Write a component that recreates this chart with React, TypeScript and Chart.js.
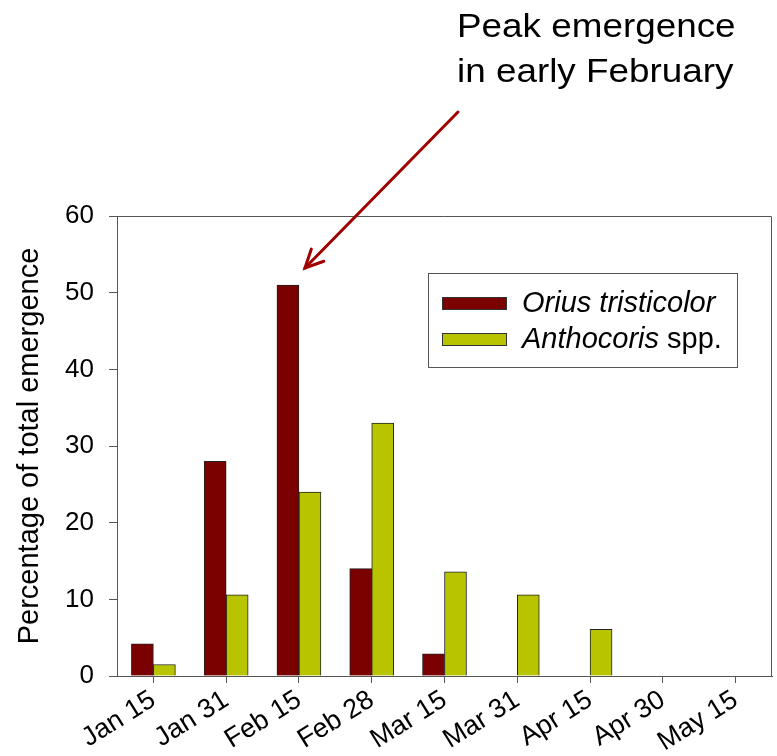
import React, { useEffect, useRef } from "react";
import { Chart, registerables } from "chart.js";

Chart.register(...registerables);

const CATEGORIES = ["Jan 15", "Jan 31", "Feb 15", "Feb 28", "Mar 15", "Mar 31", "Apr 15", "Apr 30", "May 15"];
const ORIUS = [4.2, 28, 51, 14, 2.9, 0, 0, 0, 0];
const ANTHOCORIS = [1.5, 10.6, 24, 33, 13.6, 10.6, 6.1, 0, 0];
const Y_TICKS = [0, 10, 20, 30, 40, 50, 60];
const SERIES_ITALIC = ["Orius tristicolor", "Anthocoris"];
const SERIES_PLAIN = ["", " spp."];
const ANNOTATION_LINES = ["Peak emergence", "in early February"];
const PEAK_INDEX = 2;

const RED = "#7b0000";
const YELLOW = "#b9c400";
const AXIS = "#555555";
const FONT = "'Liberation Sans', Arial, sans-serif";

const overlayPlugin = {
  id: "overlay",
  afterDraw(chart: any) {
    const ctx = chart.ctx;
    const a = chart.chartArea;
    const xs = chart.scales.x;
    const ys = chart.scales.y;
    ctx.save();
    // frame top/right
    ctx.strokeStyle = AXIS;
    ctx.lineWidth = 1;
    ctx.beginPath();
    ctx.moveTo(a.left, a.top + 0.5);
    ctx.lineTo(a.right - 0.5, a.top + 0.5);
    ctx.lineTo(a.right - 0.5, a.bottom);
    ctx.stroke();

    // legend
    const lx = a.right - 344;
    const ly = a.top + 57;
    const lw = 309;
    const lh = 94;
    ctx.fillStyle = "#fff";
    ctx.fillRect(lx, ly, lw, lh);
    ctx.strokeStyle = AXIS;
    ctx.strokeRect(lx + 0.5, ly + 0.5, lw, lh);
    const colors = [RED, YELLOW];
    for (let i = 0; i < 2; i++) {
      const sy = ly + 24 + i * 36;
      ctx.fillStyle = colors[i];
      ctx.fillRect(lx + 14, sy, 65, 13);
      ctx.strokeStyle = "#333";
      ctx.strokeRect(lx + 14.5, sy + 0.5, 64, 12);
      ctx.fillStyle = "#000";
      ctx.textBaseline = "middle";
      ctx.textAlign = "left";
      ctx.font = `italic 29px ${FONT}`;
      const tx = lx + 94;
      ctx.fillText(SERIES_ITALIC[i], tx, sy + 7);
      const w = ctx.measureText(SERIES_ITALIC[i]).width;
      ctx.font = `29px ${FONT}`;
      ctx.fillText(SERIES_PLAIN[i], tx + w, sy + 7);
    }

    // annotation text
    ctx.save();
    ctx.translate(457, 0);
    ctx.scale(1.1, 1);
    ctx.fillStyle = "#000";
    ctx.font = `33.5px ${FONT}`;
    ctx.textAlign = "left";
    ctx.textBaseline = "alphabetic";
    ANNOTATION_LINES.forEach((t, i) => ctx.fillText(t, 0, 37 + i * 45));
    ctx.restore();

    // arrow to peak
    const tipX = xs.getPixelForValue(PEAK_INDEX) + 6;
    const tipY = ys.getPixelForValue(ORIUS[PEAK_INDEX]) - 17;
    const sx = 458;
    const sy = 112;
    ctx.strokeStyle = "#a00000";
    ctx.lineWidth = 3;
    ctx.lineCap = "round";
    ctx.beginPath();
    ctx.moveTo(sx, sy);
    ctx.lineTo(tipX, tipY);
    ctx.stroke();
    const ang = Math.atan2(tipY - sy, tipX - sx);
    const hl = 20;
    ctx.beginPath();
    ctx.moveTo(tipX - hl * Math.cos(ang - 0.45), tipY - hl * Math.sin(ang - 0.45));
    ctx.lineTo(tipX, tipY);
    ctx.lineTo(tipX - hl * Math.cos(ang + 0.45), tipY - hl * Math.sin(ang + 0.45));
    ctx.stroke();
    ctx.restore();
  },
};

export default function App() {
  const ref = useRef<HTMLCanvasElement>(null);
  useEffect(() => {
    if (!ref.current) return;
    const chart = new Chart(ref.current, {
      type: "bar",
      data: {
        labels: CATEGORIES,
        datasets: [
          {
            label: SERIES_ITALIC[0] + SERIES_PLAIN[0],
            data: ORIUS,
            backgroundColor: RED,
            borderColor: "#222",
            borderWidth: 1,
            barThickness: 22,
          },
          {
            label: SERIES_ITALIC[1] + SERIES_PLAIN[1],
            data: ANTHOCORIS,
            backgroundColor: YELLOW,
            borderColor: "#222",
            borderWidth: 1,
            barThickness: 22,
          },
        ],
      },
      options: {
        responsive: false,
        animation: false,
        layout: { padding: { left: 0, right: 5, top: 216, bottom: 0 } },
        plugins: { legend: { display: false }, tooltip: { enabled: false } },
        scales: {
          x: {
            type: "category",
            offset: true,
            afterFit: (s: any) => {
              s.height = 80;
            },
            ticks: {
              autoSkip: false,
              minRotation: 32,
              maxRotation: 32,
              color: "#000",
              font: { family: FONT, size: 27 },
              padding: 1,
            },
            grid: { drawOnChartArea: false, offset: false, tickLength: 7, color: AXIS },
            border: { color: AXIS, width: 1 },
          },
          y: {
            min: 0,
            max: 60,
            afterBuildTicks: (s: any) => {
              s.ticks = Y_TICKS.map((v) => ({ value: v }));
            },
            afterFit: (s: any) => {
              s.width = 117;
            },
            ticks: {
              color: "#000",
              font: { family: FONT, size: 26 },
              padding: 15,
            },
            grid: { drawOnChartArea: false, tickLength: 8, color: AXIS },
            border: { color: AXIS, width: 1 },
            title: {
              display: true,
              text: "Percentage of total emergence",
              color: "#000",
              font: { family: FONT, size: 29 },
              padding: { top: 13, bottom: 0 },
            },
          },
        },
      } as any,
      plugins: [overlayPlugin],
    });
    return () => chart.destroy();
  }, []);
  return (
    <canvas
      ref={ref}
      width={777}
      height={756}
      style={{ position: "fixed", left: 0, top: 0, width: 777, height: 756 }}
    />
  );
}
